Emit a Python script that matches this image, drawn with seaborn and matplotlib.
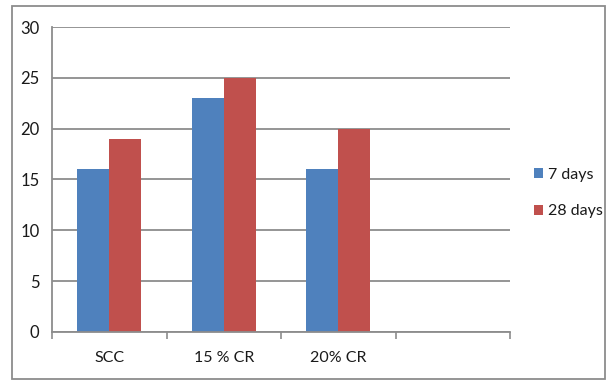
import matplotlib
matplotlib.use("Agg")
import matplotlib.pyplot as plt
from matplotlib.patches import Rectangle
import seaborn as sns
import pandas as pd
import numpy as np

# data
categories = ["SCC", "15 % CR", "20% CR", ""]
series = ["7 days", "28 days"]
days7 = [16, 23, 16]
days28 = [19, 25, 20]
colors = ["#4F81BD", "#C0504D"]

df = pd.DataFrame({
    "mix": categories[:3] * 2,
    "age": [series[0]] * 3 + [series[1]] * 3,
    "value": days7 + days28,
})

sns.set_style("white")
plt.rcParams["font.family"] = ["Lato", "DejaVu Sans"]

fig = plt.figure(figsize=(6.13, 3.81), dpi=100)
ax = fig.add_axes([0.085, 0.129, 0.747, 0.8])

sns.barplot(data=df, x="mix", y="value", hue="age", order=categories,
            hue_order=series, palette=colors, width=0.56, saturation=1,
            linewidth=0, ax=ax, legend=True)

ax.set_xlim(-0.5, 3.5)
ax.set_ylim(0, 30)
ax.set_yticks(np.arange(0, 31, 5))
ax.yaxis.grid(True, color="#8c8c8c", linewidth=1.3)
ax.set_axisbelow(True)
ax.set_xlabel("")
ax.set_ylabel("")

# category boundary tick marks like Excel
ax.set_xticks(np.arange(-0.5, 3.6, 1), minor=True)
ax.tick_params(axis="x", which="major", length=0, pad=14, labelsize=11.5, colors="#1a1a1a")
ax.tick_params(axis="x", which="minor", length=5, width=1.2, color="#8c8c8c", direction="out")
ax.tick_params(axis="y", length=5, width=1.2, color="#8c8c8c", direction="out",
               labelsize=12, labelcolor="#1a1a1a", pad=4)
ax.tick_params(axis="x", which="both", bottom=True)

for s in ["top", "right"]:
    ax.spines[s].set_visible(False)
for s in ["left", "bottom"]:
    ax.spines[s].set_color("#8c8c8c")
    ax.spines[s].set_linewidth(1.3)

leg = ax.legend(loc="center left", bbox_to_anchor=(1.02, 0.455), frameon=False,
                fontsize=11.5, handlelength=0.6, handleheight=0.6, handletextpad=0.3,
                labelspacing=1.4)
for t in leg.get_texts():
    t.set_color("#1a1a1a")

# outer chart border
fig.patches.append(Rectangle((0.02, 0.005), 0.967, 0.978, transform=fig.transFigure,
                             fill=False, edgecolor="#8c8c8c", linewidth=1.3))

fig.savefig("out.png", dpi=100)
